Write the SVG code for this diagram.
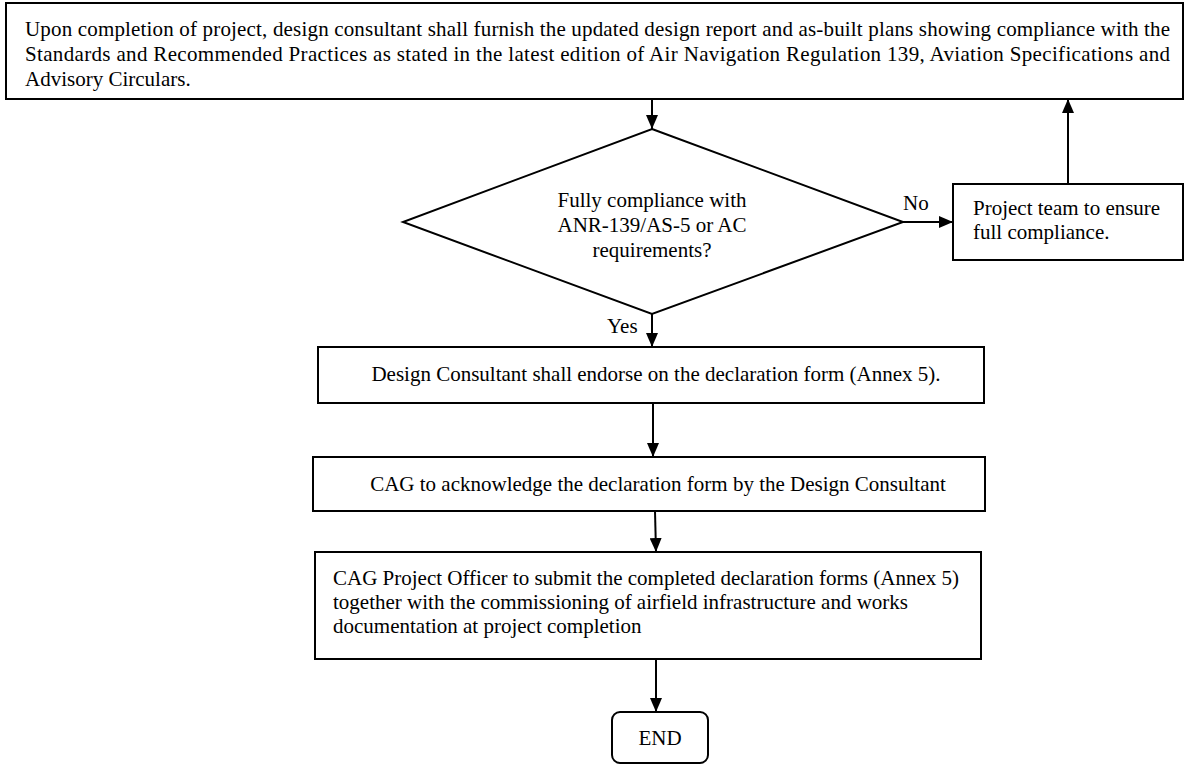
<svg xmlns="http://www.w3.org/2000/svg" width="1190" height="765" viewBox="0 0 1190 765">
<style>
.box{fill:#fff;stroke:#000;stroke-width:2}
.t{font-family:"Liberation Serif","Times New Roman",serif;font-size:21px;fill:#000}
.c{text-anchor:middle}
.ln{stroke:#000;stroke-width:2;fill:none}
</style>
<defs>
<marker id="ah" viewBox="0 0 14 12" refX="14" refY="6" markerWidth="14" markerHeight="12" markerUnits="userSpaceOnUse" orient="auto">
<path d="M0,0 L14,6 L0,12 z" fill="#000"/>
</marker>
</defs>
<rect width="1190" height="765" fill="#fff"/>
<g id="start">
<rect class="box" x="6" y="3" width="1177" height="96"/>
<text class="t" x="25" y="36" textLength="1145" lengthAdjust="spacing">Upon completion of project, design consultant shall furnish the updated design report and as-built plans showing compliance with the</text>
<text class="t" x="25" y="61" textLength="1145" lengthAdjust="spacing">Standards and Recommended Practices as stated in the latest edition of Air Navigation Regulation 139, Aviation Specifications and</text>
<text class="t" x="25" y="86">Advisory Circulars.</text>
</g>
<g id="decision">
<polygon class="box" points="652,129 903,222 652,314 403,222"/>
<text class="t c" x="652" y="207">Fully compliance with</text>
<text class="t c" x="652" y="232">ANR-139/AS-5 or AC</text>
<text class="t c" x="652" y="257">requirements?</text>
</g>
<g id="fix">
<rect class="box" x="953" y="184" width="230" height="76"/>
<text class="t" x="973" y="215">Project team to ensure</text>
<text class="t" x="973" y="239">full compliance.</text>
</g>
<g id="endorse">
<rect class="box" x="318" y="347" width="666" height="56"/>
<text class="t c" x="656" y="381">Design Consultant shall endorse on the declaration form (Annex 5).</text>
</g>
<g id="acknowledge">
<rect class="box" x="313" y="457" width="672" height="54"/>
<text class="t c" x="658" y="491">CAG to acknowledge the declaration form by the Design Consultant</text>
</g>
<g id="submit">
<rect class="box" x="315" y="552" width="666" height="107"/>
<text class="t" x="333" y="585">CAG Project Officer to submit the completed declaration forms (Annex 5)</text>
<text class="t" x="333" y="609">together with the commissioning of airfield infrastructure and works</text>
<text class="t" x="333" y="633">documentation at project completion</text>
</g>
<g id="end">
<rect class="box" x="612" y="712" width="96" height="51" rx="8"/>
<text class="t c" x="660" y="745">END</text>
</g>
<g id="connectors">
<line class="ln" x1="652" y1="99" x2="652" y2="129" marker-end="url(#ah)"/>
<line class="ln" x1="903" y1="222" x2="953" y2="222" marker-end="url(#ah)"/>
<line class="ln" x1="1068" y1="184" x2="1068" y2="99" marker-end="url(#ah)"/>
<line class="ln" x1="652" y1="314" x2="652" y2="347" marker-end="url(#ah)"/>
<line class="ln" x1="653" y1="403" x2="653" y2="457" marker-end="url(#ah)"/>
<line class="ln" x1="655" y1="511" x2="656" y2="552" marker-end="url(#ah)"/>
<line class="ln" x1="656" y1="659" x2="656" y2="712" marker-end="url(#ah)"/>
<text class="t" x="903" y="210">No</text>
<text class="t" x="607" y="333">Yes</text>
</g>
</svg>
